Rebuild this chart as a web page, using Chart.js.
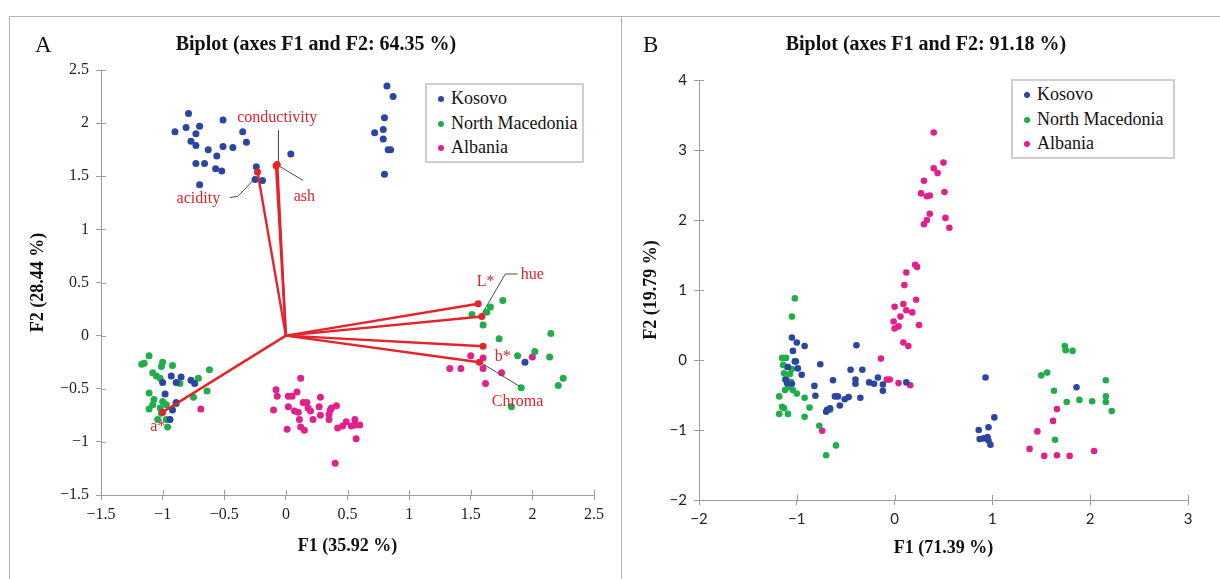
<!DOCTYPE html>
<html>
<head>
<meta charset="utf-8">
<script src="https://cdn.jsdelivr.net/npm/chart.js@4.4.1/dist/chart.umd.min.js"></script>
<style>
  body { margin: 0; background: #fff; }
  #page { position: relative; width: 1220px; height: 579px; overflow: hidden; font-family: "Liberation Serif", serif; }
  .frame { position: absolute; left: 9px; top: 16px; width: 1260px; height: 640px; border: 1px solid #b4b4b4; }
  .sep { position: absolute; left: 621px; top: 16px; width: 1px; height: 600px; background: #b4b4b4; }
  canvas { position: absolute; top: 0; }
  .title { position: absolute; top: 32px; font-weight: bold; font-size: 20px; white-space: nowrap; transform: translateX(-50%); color: #111; }
  .letter { position: absolute; top: 32px; font-size: 23px; color: #111; }
  .legend { position: absolute; border: 2px solid #cfcfcf; background: #fff; font-size: 18px; color: #111; }
  .legend div { position: relative; height: 24.5px; line-height: 24.5px; padding-left: 24px; white-space: nowrap; }
  .legend span { position: absolute; left: 11px; top: 10px; width: 6px; height: 6px; border-radius: 50%; }
</style>
</head>
<body>
<div id="page">
  <div class="frame"></div>
  <div class="sep"></div>
  <canvas id="chartA" width="620" height="579" style="left:0"></canvas>
  <canvas id="chartB" width="600" height="579" style="left:620px"></canvas>
  <div class="letter" style="left:35px">A</div>
  <div class="letter" style="left:643px">B</div>
  <div class="title" style="left:316px">Biplot (axes F1 and F2: 64.35 %)</div>
  <div class="title" style="left:926px">Biplot (axes F1 and F2: 91.18 %)</div>
  <div class="legend" id="legendA" style="left:425px;top:83px;width:155px;padding:1px 0"></div>
  <div class="legend" id="legendB" style="left:1011px;top:79px;width:160px;padding:1px 0"></div>
</div>
<script>
// series names and colours
const seriesNames = ["Kosovo", "North Macedonia", "Albania"];
const seriesColors = ["#2b45a0", "#21ad4b", "#e0218b"];

// ---- panel A : observations (F1, F2)
const kosovoA = [
  [-0.79,2.09],[-0.90,1.92],[-0.81,1.96],[-0.70,1.97],[-0.73,1.90],[-0.77,1.83],[-0.73,1.79],[-0.63,1.75],
  [-0.56,1.69],[-0.51,1.78],[-0.43,1.77],[-0.51,2.03],[-0.35,1.92],[-0.32,1.82],[-0.73,1.62],[-0.66,1.62],
  [-0.57,1.57],[-0.52,1.55],[-0.70,1.42],[-0.24,1.59],[-0.25,1.47],[-0.19,1.46],[0.04,1.71],
  [0.82,2.35],[0.87,2.25],[0.80,2.05],[0.79,1.94],[0.72,1.91],[0.79,1.85],[0.83,1.75],[0.85,1.75],[0.80,1.52],
  [-0.93,-0.38],[-0.85,-0.39],[-0.77,-0.42],[-0.74,-0.45],[-1.00,-0.44],[-0.89,-0.44],[-0.98,-0.55],
  [-0.92,-0.70],[-0.94,-0.79],[-0.89,-0.63],[1.94,-0.25]
];
const nMacedoniaA = [
  [-1.11,-0.19],[-1.17,-0.27],[-1.15,-0.26],[-1.00,-0.25],[-1.01,-0.29],[-0.92,-0.28],[-1.08,-0.35],[-1.05,-0.38],
  [-1.02,-0.40],[-0.62,-0.32],[-0.71,-0.40],[-0.86,-0.45],[-0.64,-0.52],[-1.11,-0.54],[-0.75,-0.58],[-1.07,-0.60],
  [-1.00,-0.62],[-1.08,-0.65],[-0.97,-0.65],[-0.89,-0.64],[-1.11,-0.69],[-1.02,-0.68],[-1.04,-0.79],[-0.97,-0.79],
  [-0.96,-0.86],[-1.01,-0.73],
  [1.76,0.33],[1.66,0.27],[1.63,0.22],[1.51,0.20],[1.60,0.10],[1.73,-0.03],[2.15,0.02],[2.02,-0.15],[1.88,-0.19],
  [2.14,-0.20],[2.25,-0.40],[2.21,-0.47],[1.91,-0.49],[1.83,-0.67]
];
const albaniaA = [
  [-0.69,-0.69],
  [0.12,-0.40],[-0.08,-0.51],[-0.07,-0.57],[0.02,-0.57],[0.05,-0.57],[0.09,-0.53],[-0.10,-0.70],[0.02,-0.67],
  [0.14,-0.63],[0.17,-0.63],[0.28,-0.58],[0.07,-0.71],[0.10,-0.72],[0.18,-0.68],[0.20,-0.71],[0.27,-0.67],
  [0.11,-0.79],[0.22,-0.79],[0.28,-0.75],[0.36,-0.70],[0.37,-0.68],[0.41,-0.66],[0.35,-0.79],[0.35,-0.74],
  [0.01,-0.88],[0.12,-0.86],[0.15,-0.89],[0.42,-0.87],[0.46,-0.85],[0.49,-0.81],[0.53,-0.85],[0.56,-0.79],
  [0.56,-0.84],[0.60,-0.84],[0.57,-0.97],[0.40,-1.20],
  [1.50,-0.19],[1.60,-0.21],[1.33,-0.31],[1.42,-0.31],[1.60,-0.31],[1.75,-0.35],[1.62,-0.45],[2.00,-0.20]
];

// ---- panel A : variable vectors (loadings) and label anchors
const vectorNames = ["acidity", "conductivity", "ash", "L*", "hue", "b*", "Chroma", "a*"];
const vectorEnds = [[-0.23,1.54],[-0.07,1.61],[-0.08,1.60],[1.56,0.30],[1.59,0.18],[1.60,-0.10],[1.57,-0.25],[-1.00,-0.72]];
const vectorLabelAt = [[-0.71,1.29],[-0.07,2.05],[0.15,1.31],[1.62,0.51],[2.00,0.57],[1.76,-0.20],[1.88,-0.62],[-1.04,-0.86]];
const leaderLines = [
  [[-0.455,1.30],[-0.39,1.31],[-0.25,1.48]],
  [[-0.06,1.93],[-0.06,1.60]],
  [[0.14,1.46],[-0.06,1.60]],
  [[1.88,0.58],[1.78,0.58],[1.59,0.20]],
  [[1.59,-0.26],[1.90,-0.48]]
];

// ---- panel B : observations (F1, F2)
const kosovoB = [
  [-1.05,0.32],[-1.00,0.25],[-0.92,0.20],[-1.04,0.13],[-1.02,-0.02],[-1.01,-0.02],[-1.09,-0.10],[-0.99,-0.12],
  [-0.95,-0.21],[-1.11,-0.28],[-1.10,-0.33],[-1.05,-0.34],[-0.76,-0.06],[-0.82,-0.37],[-0.81,-0.51],[-0.63,-0.29],
  [-0.69,-0.71],[-0.70,-0.74],[-0.66,-0.69],[-0.61,-0.52],[-0.58,-0.52],[-0.56,-0.65],[-0.51,-0.56],[-0.47,-0.53],
  [-0.39,0.21],[-0.45,-0.14],[-0.33,-0.14],[-0.40,-0.28],[-0.40,-0.34],[-0.35,-0.54],[-0.26,-0.32],[-0.21,-0.34],
  [-0.17,-0.25],[-0.12,-0.35],[-0.12,-0.44],[0.12,-0.32],
  [0.93,-0.25],[1.02,-0.82],[0.96,-0.96],[0.86,-1.00],[0.87,-1.13],[0.91,-1.12],[0.95,-1.10],[0.96,-1.15],
  [0.98,-1.21],[1.86,-0.39]
];
const nMacedoniaB = [
  [-1.02,0.88],[-1.05,0.62],[-1.15,0.03],[-1.11,0.03],[-1.14,-0.07],[-1.10,-0.10],[-1.05,-0.13],[-1.13,-0.19],
  [-1.07,-0.20],[-1.12,-0.28],[-1.06,-0.31],[-1.09,-0.39],[-1.12,-0.43],[-1.04,-0.43],[-1.00,-0.48],[-1.18,-0.52],
  [-0.92,-0.54],[-1.15,-0.67],[-1.13,-0.69],[-0.87,-0.68],[-1.18,-0.77],[-1.09,-0.77],[-0.92,-0.81],[-0.77,-0.94],
  [-0.66,-0.71],[-0.60,-1.22],[-0.70,-1.36],
  [1.74,0.20],[1.75,0.14],[1.82,0.13],[1.50,-0.22],[1.56,-0.18],[1.63,-0.44],[1.76,-0.60],[1.89,-0.57],
  [2.02,-0.59],[2.16,-0.29],[2.16,-0.52],[2.16,-0.60],[2.22,-0.73],[1.64,-1.14]
];
const albaniaB = [
  [0.40,3.25],[0.50,2.82],[0.40,2.74],[0.44,2.67],[0.30,2.56],[0.27,2.38],[0.33,2.34],[0.36,2.35],[0.51,2.40],
  [0.36,2.09],[0.33,2.00],[0.30,1.94],[0.52,2.03],[0.56,1.89],
  [0.21,1.36],[0.23,1.33],[0.12,1.25],[0.10,1.07],[0.22,0.86],[0.09,0.80],[0.00,0.76],[0.12,0.71],[0.18,0.68],
  [0.06,0.62],[-0.01,0.55],[0.25,0.50],[0.04,0.48],[0.00,0.45],[0.09,0.25],[0.14,0.20],
  [-0.14,0.02],[-0.08,-0.28],[-0.05,-0.28],[0.04,-0.33],[0.16,-0.36],[-0.74,-1.01],
  [1.66,-0.70],[1.62,-0.87],[1.46,-1.02],[1.38,-1.27],[1.53,-1.37],[1.66,-1.36],[1.79,-1.37],[2.04,-1.30]
];

// ---- tick values
const xTicksA = [-1.5, -1, -0.5, 0, 0.5, 1, 1.5, 2, 2.5];
const yTicksA = [-1.5, -1, -0.5, 0, 0.5, 1, 1.5, 2, 2.5];
const xTicksB = [-2, -1, 0, 1, 2, 3];
const yTicksB = [-2, -1, 0, 1, 2, 3, 4];

const axisGrey = "#9d9d9d";
const vecRed = "#e4232b";
const toXY = arr => arr.map(p => ({x: p[0], y: p[1]}));
const fmt = v => String(v).replace("-", "\u2212");

// short tick marks reaching into the plot (ticks cross the axis line)
const crossTicks = {
  id: "crossTicks",
  afterDraw(chart) {
    const {ctx, chartArea: a, scales: {x, y}} = chart;
    ctx.save();
    ctx.strokeStyle = axisGrey;
    ctx.lineWidth = 1;
    ctx.beginPath();
    x.ticks.forEach(t => { const px = Math.round(x.getPixelForValue(t.value)) + 0.5; ctx.moveTo(px, a.bottom); ctx.lineTo(px, a.bottom - 5); });
    y.ticks.forEach(t => { const py = Math.round(y.getPixelForValue(t.value)) + 0.5; ctx.moveTo(a.left, py); ctx.lineTo(a.left + 5, py); });
    ctx.stroke();
    ctx.restore();
  }
};

// red names of the vectors
const vecLabels = {
  id: "vecLabels",
  afterDatasetsDraw(chart, args, opts) {
    if (!opts.names) return;
    const {ctx, scales: {x, y}} = chart;
    ctx.save();
    ctx.fillStyle = "#d8262e";
    ctx.font = "16px 'Liberation Serif', serif";
    ctx.textAlign = "center";
    ctx.textBaseline = "middle";
    opts.names.forEach((n, i) => ctx.fillText(n, x.getPixelForValue(opts.at[i][0]), y.getPixelForValue(opts.at[i][1])));
    ctx.restore();
  }
};

function scaleOpts(ticksArr, title, size, fitSize, titlePad, tickFont, isX) {
  return {
    type: "linear",
    min: ticksArr[0],
    max: ticksArr[ticksArr.length - 1],
    afterBuildTicks: s => { s.ticks = ticksArr.map(v => ({value: v})); },
    afterFit: s => { if (isX) s.height = fitSize; else s.width = fitSize; },
    border: {display: true, color: axisGrey, width: 1},
    grid: {display: true, drawOnChartArea: false, drawTicks: true, tickLength: 5, color: axisGrey},
    ticks: {color: "#222", font: tickFont, padding: isX ? 5 : 7, callback: v => fmt(v), maxRotation: 0, autoSkip: false},
    title: {display: true, text: title, color: "#111", font: {family: "'Liberation Serif', serif", size: size, weight: "bold"}, padding: titlePad}
  };
}

function pointSets(series, r) {
  return series.map((s, i) => ({
    label: seriesNames[i], data: toXY(s), order: 5,
    backgroundColor: seriesColors[i], borderColor: seriesColors[i],
    pointRadius: r, borderWidth: 0, showLine: false
  }));
}

function buildLegend(id) {
  const el = document.getElementById(id);
  seriesNames.forEach((n, i) => {
    const d = document.createElement("div");
    d.innerHTML = '<span style="background:' + seriesColors[i] + '"></span>' + n;
    el.appendChild(d);
  });
}

// ---- chart A
const dsA = pointSets([kosovoA, nMacedoniaA, albaniaA], 3.5);
leaderLines.forEach(l => dsA.push({
  label: "_leader", data: toXY(l), order: 2, showLine: true, borderColor: "#4a4a4a", borderWidth: 1, pointRadius: 0, fill: false
}));
vectorEnds.forEach(e => dsA.push({
  label: "_vector", data: [{x: 0, y: 0}, {x: e[0], y: e[1]}], order: 1, showLine: true,
  borderColor: vecRed, borderWidth: 2.4, pointRadius: [0, 3.5], backgroundColor: vecRed, pointBorderWidth: 0, fill: false
}));

new Chart(document.getElementById("chartA"), {
  type: "scatter",
  data: {datasets: dsA},
  options: {
    responsive: false, animation: false,
    layout: {padding: {left: 0, right: 26, top: 70, bottom: 0}},
    plugins: {legend: {display: false}, tooltip: {enabled: false}, vecLabels: {names: vectorNames, at: vectorLabelAt}},
    scales: {
      x: scaleOpts(xTicksA, "F1 (35.92 %)", 18, 84, {top: 0, bottom: 22}, {family: "'Liberation Serif', serif", size: 16}, true),
      y: scaleOpts(yTicksA, "F2 (28.44 %)", 18, 101, {top: 28, bottom: 0}, {family: "'Liberation Serif', serif", size: 16}, false)
    }
  },
  plugins: [crossTicks, vecLabels]
});

// ---- chart B
new Chart(document.getElementById("chartB"), {
  type: "scatter",
  data: {datasets: pointSets([kosovoB, nMacedoniaB, albaniaB], 3.3)},
  options: {
    responsive: false, animation: false,
    layout: {padding: {left: 0, right: 32, top: 80, bottom: 0}},
    plugins: {legend: {display: false}, tooltip: {enabled: false}},
    scales: {
      x: scaleOpts(xTicksB, "F1 (71.39 %)", 18, 79, {top: 0, bottom: 20}, {family: "Lato, sans-serif", size: 15}, true),
      y: scaleOpts(yTicksB, "F2 (19.79 %)", 18, 79, {top: 21, bottom: 0}, {family: "Lato, sans-serif", size: 15}, false)
    }
  },
  plugins: [crossTicks]
});

buildLegend("legendA");
buildLegend("legendB");
</script>
</body>
</html>
